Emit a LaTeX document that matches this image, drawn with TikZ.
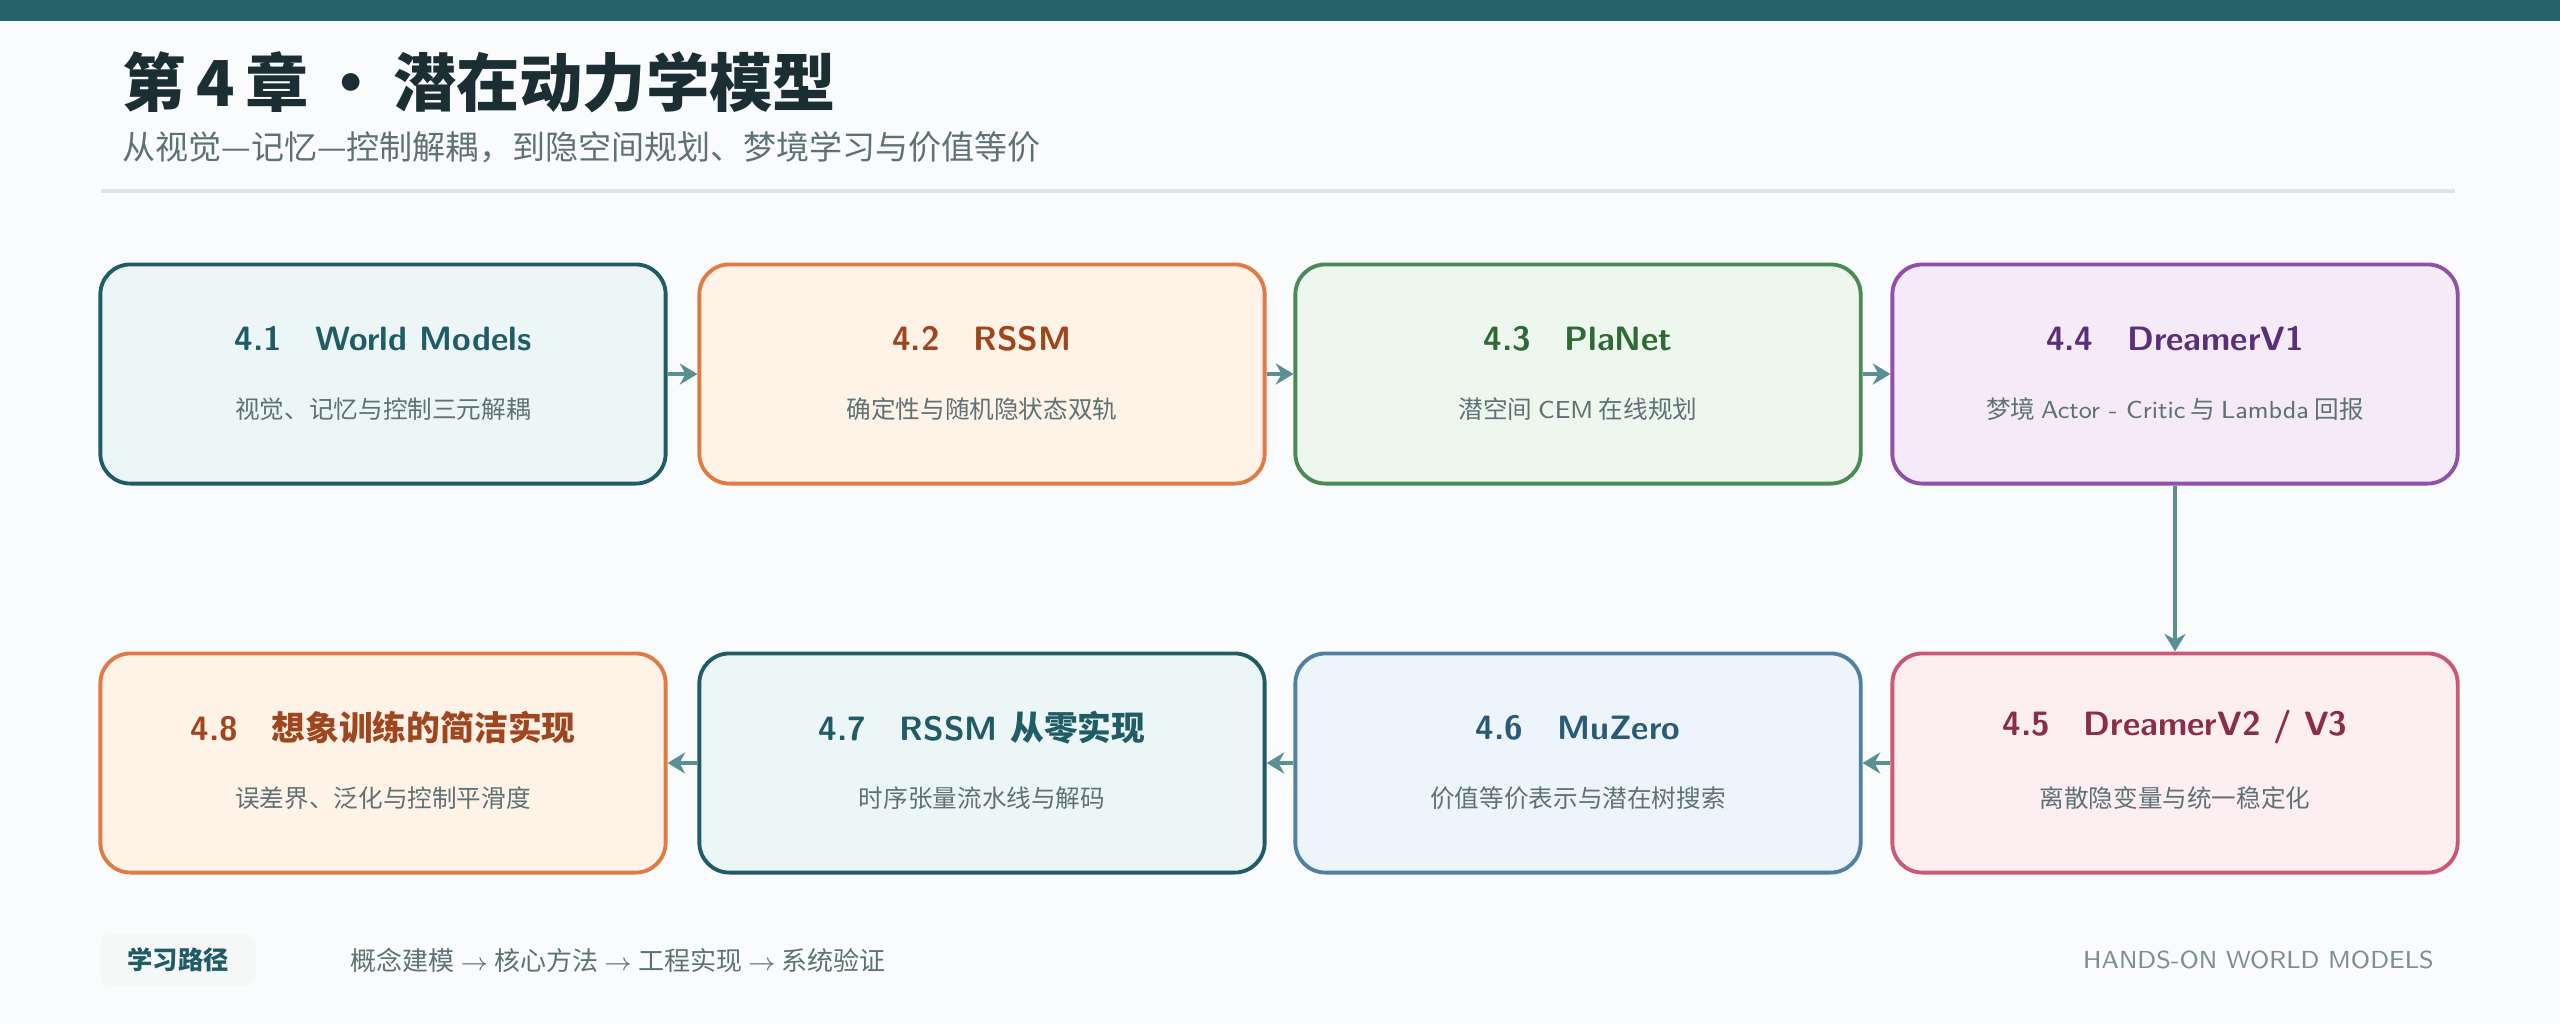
\documentclass[tikz,border=0pt]{standalone}
\usepackage{fontspec}
\newfontfamily\cjk{Noto Sans CJK SC}
\usetikzlibrary{positioning,arrows.meta}
\definecolor{bgc}{HTML}{F9FBFD}
\definecolor{barc}{HTML}{25636A}
\definecolor{titlec}{HTML}{1B2E33}
\definecolor{subc}{HTML}{5E7276}
\definecolor{arrc}{HTML}{5A8F94}
\definecolor{tealD}{HTML}{1F5C66}\definecolor{tealF}{HTML}{ECF6F6}
\definecolor{orgD}{HTML}{E07B45}\definecolor{orgF}{HTML}{FFF2E6}\definecolor{orgT}{HTML}{A0461E}
\definecolor{grnD}{HTML}{4A8A55}\definecolor{grnF}{HTML}{EEF7EE}\definecolor{grnT}{HTML}{2F6A35}
\definecolor{purD}{HTML}{9050A8}\definecolor{purF}{HTML}{F5EBF8}\definecolor{purT}{HTML}{5A2E78}
\definecolor{pnkD}{HTML}{C85A78}\definecolor{pnkF}{HTML}{FDEEF2}\definecolor{pnkT}{HTML}{8A2E48}
\definecolor{bluD}{HTML}{4F82A2}\definecolor{bluF}{HTML}{EDF4FB}\definecolor{bluT}{HTML}{2A5A78}
\tikzset{
  box/.style={draw=#1D, fill=#1F, line width=1.1pt, rounded corners=0.3cm,
    minimum width=5.65cm, minimum height=2.19cm},
  flow/.style={draw=arrc, line width=1.3pt, -{Stealth[length=5pt,width=6pt]}},
  btitle/.style={font=\sffamily\bfseries\fontsize{9.6}{11}\selectfont},
  bsub/.style={font=\cjk\fontsize{7}{8}\selectfont, text=subc},
}
\newcommand{\chap}[8]{%
  \node[box=#2] (#1) at (#3,#4) {};
  \node[btitle, text=#5] at ([yshift=-0.76cm]#1.north) {#6\hspace{1em}#7};
  \node[bsub] at ([yshift=0.76cm]#1.south) {#8};
}
\begin{document}
\begin{tikzpicture}[x=0.01cm, y=-0.01cm]
\fill[bgc] (0,0) rectangle (2560,1024);
\useasboundingbox (0,0) rectangle (2560,1024);
\fill[barc] (0,0) rectangle (2560,21);

% header
\node[anchor=west, text=titlec, font=\cjk\bfseries\fontsize{18}{20}\selectfont] (title) at (110,82) {第\,4\,章\,·\,潜在动力学模型};
\node[anchor=west, text=subc, font=\cjk\fontsize{9.4}{11}\selectfont] (subtitle) at (110,147) {从视觉—记忆—控制解耦，到隐空间规划、梦境学习与价值等价};
\draw[line width=1pt, draw=subc!20] (101,191) -- (2455,191);

% chapters, row 1
\chap{c1}{teal}{383}{374}{tealD}{4.1}{World Models}{视觉、记忆与控制三元解耦}
\chap{c2}{org}{982}{374}{orgT}{4.2}{RSSM}{确定性与随机隐状态双轨}
\chap{c3}{grn}{1578}{374}{grnT}{4.3}{PlaNet}{潜空间 \sffamily CEM\cjk{} 在线规划}
\chap{c4}{pur}{2175}{374}{purT}{4.4}{DreamerV1}{梦境 \sffamily Actor - Critic\cjk{} 与 \sffamily Lambda\cjk{} 回报}
% row 2
\chap{c5}{pnk}{2175}{763}{pnkT}{4.5}{DreamerV2 / V3}{离散隐变量与统一稳定化}
\chap{c6}{blu}{1578}{763}{bluT}{4.6}{MuZero}{价值等价表示与潜在树搜索}
\chap{c7}{teal}{982}{763}{tealD}{4.7}{RSSM {\cjk 从零实现}}{时序张量流水线与解码}
\chap{c8}{org}{383}{763}{orgT}{4.8}{{\cjk 想象训练的简洁实现}}{误差界、泛化与控制平滑度}

\draw[flow] (c1) -- (c2);
\draw[flow] (c2) -- (c3);
\draw[flow] (c3) -- (c4);
\draw[flow] (c4) -- (c5);
\draw[flow] (c5) -- (c6);
\draw[flow] (c6) -- (c7);
\draw[flow] (c7) -- (c8);

% footer
\node[fill=tealF!80!subc!20, rounded corners=0.12cm, minimum width=1.55cm, minimum height=0.52cm,
  text=tealD, font=\cjk\bfseries\fontsize{7.2}{9}\selectfont] (path) at (178,960) {学习路径};
\node[anchor=west, text=subc, font=\cjk\fontsize{7.4}{9}\selectfont] (steps) at (338,960)
  {概念建模 $\rightarrow$ 核心方法 $\rightarrow$ 工程实现 $\rightarrow$ 系统验证};
\node[anchor=east, text=subc!80, font=\sffamily\fontsize{7}{8}\selectfont] (brand) at (2446,960) {HANDS-ON WORLD MODELS};
\end{tikzpicture}
\end{document}
